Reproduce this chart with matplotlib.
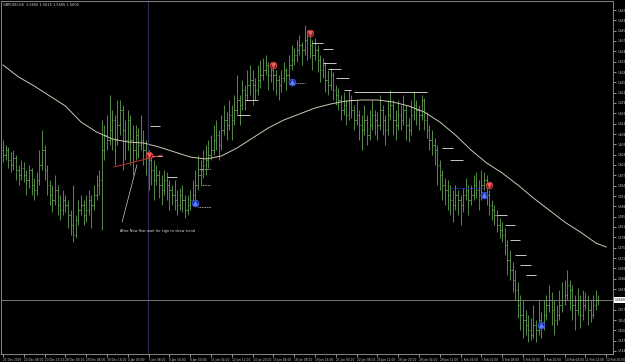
import matplotlib.pyplot as plt
import numpy as np

# GBPUSD H4 bars, 21 Dec 2009 .. 12 Feb 2010
opens = [
    1.6050, 1.6035, 1.6050, 1.6020, 1.6005, 1.6026, 1.5990, 1.5975,
    1.5996, 1.5975, 1.5960, 1.5990, 1.5945, 1.5930, 1.5960, 1.6005,
    1.6050, 1.5990, 1.5945, 1.5915, 1.5900, 1.5930, 1.5885, 1.5870,
    1.5900, 1.5885, 1.5855, 1.5825, 1.5795, 1.5840, 1.5870, 1.5885,
    1.5855, 1.5870, 1.5900, 1.5885, 1.5915, 1.5945, 1.5960, 1.6050,
    1.6095, 1.6080, 1.6110, 1.6140, 1.6080, 1.6125, 1.6170, 1.6110,
    1.6080, 1.6140, 1.6080, 1.6050, 1.6095, 1.6065, 1.6080, 1.6050,
    1.6035, 1.6020, 1.5990, 1.5960, 1.5975, 1.5945, 1.5930, 1.5960,
    1.5945, 1.5930, 1.5915, 1.5900, 1.5885, 1.5915, 1.5900, 1.5870,
    1.5885, 1.5900, 1.5915, 1.5945, 1.5975, 1.5990, 1.6005, 1.6020,
    1.6035, 1.6050, 1.6080, 1.6095, 1.6065, 1.6110, 1.6140, 1.6125,
    1.6155, 1.6140, 1.6170, 1.6200, 1.6185, 1.6230, 1.6215, 1.6245,
    1.6260, 1.6245, 1.6230, 1.6260, 1.6275, 1.6290, 1.6305, 1.6275,
    1.6290, 1.6275, 1.6260, 1.6245, 1.6266, 1.6290, 1.6275, 1.6305,
    1.6320, 1.6335, 1.6350, 1.6365, 1.6350, 1.6380, 1.6395, 1.6365,
    1.6335, 1.6350, 1.6320, 1.6290, 1.6305, 1.6260, 1.6245, 1.6275,
    1.6230, 1.6215, 1.6200, 1.6170, 1.6185, 1.6155, 1.6200, 1.6170,
    1.6140, 1.6155, 1.6125, 1.6110, 1.6140, 1.6095, 1.6125, 1.6155,
    1.6140, 1.6125, 1.6170, 1.6140, 1.6110, 1.6155, 1.6185, 1.6140,
    1.6125, 1.6155, 1.6140, 1.6170, 1.6125, 1.6110, 1.6155, 1.6185,
    1.6170, 1.6155, 1.6200, 1.6140, 1.6110, 1.6080, 1.6065, 1.6050,
    1.6005, 1.5975, 1.5945, 1.5930, 1.5915, 1.5900, 1.5885, 1.5915,
    1.5900, 1.5885, 1.5915, 1.5930, 1.5900, 1.5915, 1.5945, 1.5930,
    1.5915, 1.5945, 1.5960, 1.5915, 1.5885, 1.5870, 1.5855, 1.5825,
    1.5810, 1.5795, 1.5765, 1.5720, 1.5690, 1.5660, 1.5630, 1.5585,
    1.5555, 1.5540, 1.5525, 1.5510, 1.5495, 1.5525, 1.5510, 1.5540,
    1.5525, 1.5555, 1.5585, 1.5600, 1.5570, 1.5540, 1.5555, 1.5585,
    1.5600, 1.5615, 1.5645, 1.5630, 1.5585, 1.5570, 1.5600, 1.5555,
    1.5585, 1.5600, 1.5570, 1.5555, 1.5585, 1.5600,
]
highs = [
    1.6080, 1.6065, 1.6059, 1.6044, 1.6050, 1.6035, 1.6005, 1.6020,
    1.6014, 1.5990, 1.6005, 1.5996, 1.5966, 1.5984, 1.6050, 1.6110,
    1.6065, 1.6005, 1.5960, 1.5945, 1.5975, 1.5945, 1.5915, 1.5930,
    1.5915, 1.5900, 1.5870, 1.5945, 1.5855, 1.5900, 1.5915, 1.5900,
    1.5915, 1.5930, 1.5915, 1.5945, 1.5975, 1.5990, 1.6140, 1.6125,
    1.6155, 1.6215, 1.6170, 1.6155, 1.6200, 1.6200, 1.6185, 1.6140,
    1.6170, 1.6155, 1.6125, 1.6125, 1.6116, 1.6155, 1.6110, 1.6080,
    1.6050, 1.6035, 1.6020, 1.6005, 1.5990, 1.5975, 1.5990, 1.5984,
    1.5960, 1.5945, 1.5960, 1.5930, 1.5936, 1.5945, 1.5915, 1.5915,
    1.5930, 1.5960, 1.5990, 1.6035, 1.6020, 1.6050, 1.6065, 1.6080,
    1.6095, 1.6125, 1.6140, 1.6110, 1.6155, 1.6185, 1.6164, 1.6200,
    1.6185, 1.6215, 1.6275, 1.6215, 1.6260, 1.6245, 1.6290, 1.6305,
    1.6290, 1.6266, 1.6305, 1.6320, 1.6326, 1.6335, 1.6314, 1.6305,
    1.6305, 1.6290, 1.6275, 1.6290, 1.6314, 1.6296, 1.6335, 1.6365,
    1.6356, 1.6380, 1.6395, 1.6374, 1.6425, 1.6410, 1.6404, 1.6380,
    1.6386, 1.6365, 1.6335, 1.6326, 1.6314, 1.6290, 1.6296, 1.6284,
    1.6245, 1.6236, 1.6215, 1.6224, 1.6200, 1.6230, 1.6215, 1.6185,
    1.6200, 1.6170, 1.6155, 1.6185, 1.6155, 1.6170, 1.6200, 1.6170,
    1.6164, 1.6215, 1.6185, 1.6155, 1.6200, 1.6230, 1.6200, 1.6170,
    1.6200, 1.6185, 1.6215, 1.6185, 1.6146, 1.6200, 1.6224, 1.6200,
    1.6185, 1.6215, 1.6206, 1.6164, 1.6125, 1.6110, 1.6086, 1.6065,
    1.6020, 1.5990, 1.5966, 1.5960, 1.5945, 1.5930, 1.5945, 1.5930,
    1.5915, 1.5936, 1.5966, 1.5945, 1.5945, 1.5975, 1.5984, 1.5960,
    1.5990, 1.5984, 1.5975, 1.5930, 1.5900, 1.5885, 1.5870, 1.5846,
    1.5834, 1.5816, 1.5780, 1.5750, 1.5714, 1.5690, 1.5654, 1.5615,
    1.5600, 1.5570, 1.5555, 1.5546, 1.5585, 1.5540, 1.5600, 1.5564,
    1.5600, 1.5615, 1.5645, 1.5624, 1.5600, 1.5585, 1.5630, 1.5654,
    1.5660, 1.5690, 1.5660, 1.5645, 1.5615, 1.5636, 1.5615, 1.5630,
    1.5624, 1.5615, 1.5600, 1.5615, 1.5630, 1.5615,
]
lows = [
    1.6014, 1.6020, 1.5996, 1.5984, 1.5990, 1.5960, 1.5945, 1.5960,
    1.5954, 1.5915, 1.5936, 1.5915, 1.5900, 1.5915, 1.5945, 1.5990,
    1.5960, 1.5915, 1.5885, 1.5864, 1.5885, 1.5855, 1.5840, 1.5855,
    1.5864, 1.5816, 1.5795, 1.5774, 1.5786, 1.5825, 1.5855, 1.5825,
    1.5834, 1.5855, 1.5816, 1.5870, 1.5900, 1.5915, 1.5810, 1.6020,
    1.6050, 1.6065, 1.6050, 1.6005, 1.6065, 1.6095, 1.5990, 1.6020,
    1.6050, 1.6005, 1.5975, 1.6020, 1.6026, 1.6050, 1.6005, 1.5975,
    1.5930, 1.5945, 1.5900, 1.5945, 1.5906, 1.5885, 1.5915, 1.5900,
    1.5870, 1.5885, 1.5870, 1.5855, 1.5870, 1.5864, 1.5846, 1.5855,
    1.5870, 1.5885, 1.5900, 1.5930, 1.5945, 1.5966, 1.5975, 1.5996,
    1.6020, 1.6035, 1.6050, 1.6020, 1.6050, 1.6095, 1.6080, 1.6110,
    1.6080, 1.6125, 1.6155, 1.6125, 1.6170, 1.6170, 1.6200, 1.6215,
    1.6185, 1.6200, 1.6215, 1.6236, 1.6260, 1.6275, 1.6230, 1.6254,
    1.6230, 1.6215, 1.6200, 1.6224, 1.6254, 1.6230, 1.6260, 1.6290,
    1.6305, 1.6314, 1.6335, 1.6305, 1.6335, 1.6320, 1.6326, 1.6290,
    1.6320, 1.6284, 1.6254, 1.6266, 1.6224, 1.6215, 1.6230, 1.6200,
    1.6185, 1.6170, 1.6140, 1.6155, 1.6125, 1.6140, 1.6146, 1.6110,
    1.6125, 1.6080, 1.6050, 1.6095, 1.6065, 1.6080, 1.6110, 1.6095,
    1.6080, 1.6110, 1.6095, 1.6065, 1.6095, 1.6140, 1.6095, 1.6080,
    1.6110, 1.6110, 1.6125, 1.6080, 1.6074, 1.6095, 1.6140, 1.6125,
    1.6110, 1.6140, 1.6110, 1.6086, 1.6050, 1.6035, 1.6005, 1.5945,
    1.5930, 1.5900, 1.5885, 1.5870, 1.5855, 1.5834, 1.5870, 1.5855,
    1.5825, 1.5864, 1.5900, 1.5855, 1.5885, 1.5900, 1.5906, 1.5870,
    1.5900, 1.5930, 1.5885, 1.5855, 1.5840, 1.5825, 1.5804, 1.5786,
    1.5774, 1.5735, 1.5675, 1.5660, 1.5624, 1.5600, 1.5546, 1.5510,
    1.5486, 1.5495, 1.5474, 1.5480, 1.5486, 1.5474, 1.5495, 1.5486,
    1.5510, 1.5540, 1.5564, 1.5525, 1.5495, 1.5525, 1.5540, 1.5564,
    1.5585, 1.5600, 1.5570, 1.5540, 1.5510, 1.5555, 1.5516, 1.5540,
    1.5570, 1.5525, 1.5534, 1.5546, 1.5570, 1.5585,
]
closes = [
    1.6035, 1.6050, 1.6020, 1.6005, 1.6026, 1.5990, 1.5975, 1.5996,
    1.5975, 1.5960, 1.5990, 1.5945, 1.5930, 1.5960, 1.6005, 1.6050,
    1.5990, 1.5945, 1.5915, 1.5900, 1.5930, 1.5885, 1.5870, 1.5900,
    1.5885, 1.5855, 1.5825, 1.5795, 1.5840, 1.5870, 1.5885, 1.5855,
    1.5870, 1.5900, 1.5885, 1.5915, 1.5945, 1.5960, 1.6050, 1.6095,
    1.6080, 1.6110, 1.6140, 1.6080, 1.6125, 1.6170, 1.6110, 1.6080,
    1.6140, 1.6080, 1.6050, 1.6095, 1.6065, 1.6080, 1.6050, 1.6035,
    1.6020, 1.5990, 1.5960, 1.5975, 1.5945, 1.5930, 1.5960, 1.5945,
    1.5930, 1.5915, 1.5900, 1.5885, 1.5915, 1.5900, 1.5870, 1.5885,
    1.5900, 1.5915, 1.5945, 1.5975, 1.5990, 1.6005, 1.6020, 1.6035,
    1.6050, 1.6080, 1.6095, 1.6065, 1.6110, 1.6140, 1.6125, 1.6155,
    1.6140, 1.6170, 1.6200, 1.6185, 1.6230, 1.6215, 1.6245, 1.6260,
    1.6245, 1.6230, 1.6260, 1.6275, 1.6290, 1.6305, 1.6275, 1.6290,
    1.6275, 1.6260, 1.6245, 1.6266, 1.6290, 1.6275, 1.6305, 1.6320,
    1.6335, 1.6350, 1.6365, 1.6350, 1.6380, 1.6395, 1.6365, 1.6335,
    1.6350, 1.6320, 1.6290, 1.6305, 1.6260, 1.6245, 1.6275, 1.6230,
    1.6215, 1.6200, 1.6170, 1.6185, 1.6155, 1.6200, 1.6170, 1.6140,
    1.6155, 1.6125, 1.6110, 1.6140, 1.6095, 1.6125, 1.6155, 1.6140,
    1.6125, 1.6170, 1.6140, 1.6110, 1.6155, 1.6185, 1.6140, 1.6125,
    1.6155, 1.6140, 1.6170, 1.6125, 1.6110, 1.6155, 1.6185, 1.6170,
    1.6155, 1.6200, 1.6140, 1.6110, 1.6080, 1.6065, 1.6050, 1.6005,
    1.5975, 1.5945, 1.5930, 1.5915, 1.5900, 1.5885, 1.5915, 1.5900,
    1.5885, 1.5915, 1.5930, 1.5900, 1.5915, 1.5945, 1.5930, 1.5915,
    1.5945, 1.5960, 1.5915, 1.5885, 1.5870, 1.5855, 1.5825, 1.5810,
    1.5795, 1.5765, 1.5720, 1.5690, 1.5660, 1.5630, 1.5585, 1.5555,
    1.5540, 1.5525, 1.5510, 1.5495, 1.5525, 1.5510, 1.5540, 1.5525,
    1.5555, 1.5585, 1.5600, 1.5570, 1.5540, 1.5555, 1.5585, 1.5600,
    1.5615, 1.5645, 1.5630, 1.5585, 1.5570, 1.5600, 1.5555, 1.5585,
    1.5600, 1.5570, 1.5555, 1.5585, 1.5600, 1.5600,
]

# moving average, read every 6th bar (last point sits a little past the last bar)
ma_bars = list(range(0, 229, 6)) + [232]
ma_values = [
    1.6305, 1.6269, 1.6242, 1.6212, 1.6182, 1.6134, 1.6104, 1.6083,
    1.6074, 1.6071, 1.6059, 1.6044, 1.6029, 1.6023, 1.6032, 1.6056,
    1.6086, 1.6116, 1.6140, 1.6158, 1.6176, 1.6188, 1.6197, 1.6200,
    1.6200, 1.6194, 1.6182, 1.6164, 1.6134, 1.6095, 1.6050,
    1.6011, 1.5981, 1.5945, 1.5906, 1.5870, 1.5834, 1.5804, 1.5771,
    1.5759,
]

# signal arrows
sell_bars = [56, 104, 118, 187]
sell_prices = [1.6035, 1.6305, 1.6400, 1.5945]
buy_bars = [74, 111, 185, 207]
buy_prices = [1.5891, 1.6254, 1.5915, 1.5525]

# indicator level lines: start bar, end bar, price, style
level_start = [56.5, 57.3, 63, 90, 93, 119, 123, 123, 125, 128, 131, 135,
               169, 172, 190, 193, 195, 197, 199, 201,
               75, 76, 75, 111.5, 172]
level_end = [60.4, 61.2, 67, 95, 98, 123, 127, 128, 130, 133, 134, 163,
             173, 177, 194, 197, 199, 201, 203, 205,
             80, 80, 80, 116, 185]
level_price = [1.6122, 1.6032, 1.5969, 1.6155, 1.6200, 1.6371, 1.6353, 1.6311,
               1.6293, 1.6266, 1.6230, 1.6224, 1.6056, 1.6020, 1.5855, 1.5825,
               1.5780, 1.5735, 1.5705, 1.5675,
               1.5993, 1.5945, 1.5879, 1.6251, 1.5936]
level_style = ['solid'] * 20 + ['dot_white'] * 4 + ['dot_blue']

time_labels = [
    "21 Dec 2009", "22 Dec 08:00", "23 Dec 16:00", "28 Dec 00:00", "29 Dec 08:00",
    "30 Dec 16:00", "4 Jan 00:00", "5 Jan 08:00", "6 Jan 16:00", "8 Jan 00:00",
    "11 Jan 04:00", "12 Jan 12:00", "13 Jan 20:00", "15 Jan 04:00", "18 Jan 08:00",
    "19 Jan 16:00", "21 Jan 00:00", "22 Jan 08:00", "25 Jan 12:00", "26 Jan 20:00",
    "28 Jan 04:00", "29 Jan 12:00", "1 Feb 16:00", "3 Feb 00:00", "4 Feb 08:00",
    "5 Feb 16:00", "8 Feb 20:00", "10 Feb 04:00", "11 Feb 12:00", "12 Feb 20:00",
]

separator_bar = 55.8
note = "After New Year wait for sign to show trend"

fig = plt.figure(figsize=(6.25, 3.62), dpi=100, facecolor='black')
ax = fig.add_axes([1 / 625, 8 / 362, 612 / 625, 353 / 362])
ax.set_facecolor('black')

idx = np.arange(len(closes))
bar_color = '#62a052'
ax.vlines(idx, lows, highs, color=bar_color, lw=0.6)
ax.hlines(opens, idx - 0.45, idx, color=bar_color, lw=0.6)
ax.hlines(closes, idx, idx + 0.45, color=bar_color, lw=0.6)

# moving average
ax.plot(ma_bars, ma_values, color='#cfc7b4', lw=0.7)

# period separator
ax.axvline(separator_bar, color='#2c2c55', lw=0.8)

# level lines
for x0, x1, p, st in zip(level_start, level_end, level_price, level_style):
    if st == 'solid':
        ax.hlines(p, x0, x1, color='#e8e8e8', lw=0.6)
    elif st == 'dot_white':
        ax.hlines(p, x0, x1, color='#d8d8d8', lw=0.6, linestyles=(0, (1, 1)))
    else:
        ax.hlines(p, x0, x1, color='#3040c0', lw=0.7, linestyles=(0, (1, 1)))

# signals
ax.scatter(sell_bars, sell_prices, s=22, marker='o', facecolor='#5a1414',
           edgecolor='#d84040', lw=0.7, zorder=5)
ax.scatter(sell_bars, sell_prices, s=6, marker='v', color='#e86060', zorder=6)
ax.scatter(buy_bars, buy_prices, s=22, marker='o', facecolor='#121c78',
           edgecolor='#3a58e8', lw=0.7, zorder=5)
ax.scatter(buy_bars, buy_prices, s=6, marker='^', color='#6080ff', zorder=6)

# hand drawn trend line and note
ax.plot([42.7, 61.2], [1.5999, 1.6035], color='#c03030', lw=0.7)
ax.plot([45.8, 51.5], [1.5834, 1.6005], color='#d0d0d0', lw=0.5)
ax.text(45.0, 1.5806, note, color='#e0e0e0', fontsize=2.5, va='center', ha='left')

# current price line
last = closes[-1]
ax.axhline(last, color='#8a8a8a', lw=0.6)
ax.text(1.003, last, f"{last:.4f}", transform=ax.get_yaxis_transform(),
        fontsize=2.2, color='black', va='center', ha='left', clip_on=False,
        bbox=dict(facecolor='white', edgecolor='none', pad=0.4), zorder=10)

ax.text(0.004, 0.994,
        f"GBPUSD,H4  {opens[-1]:.4f} {highs[-1]:.4f} {lows[-1]:.4f} {closes[-1]:.4f}",
        transform=ax.transAxes, fontsize=2.5, color='#d8d8d8', va='top', ha='left')

ax.set_xlim(-0.77, 234.6)
ax.set_ylim(1.5438, 1.6497)

ax.yaxis.tick_right()
yt = 1.6470 - 0.0031 * np.arange(34)
ax.set_yticks(yt)
ax.set_yticklabels([f"{v:.4f}" for v in yt])
ax.set_xticks(np.arange(0, 8 * len(time_labels), 8))
ax.set_xticklabels(time_labels)
for lbl in ax.get_xticklabels():
    lbl.set_ha('left')
ax.tick_params(colors='#d0d0d0', labelsize=2.1, length=2, width=0.5, pad=1)

for side in ['left', 'top', 'right', 'bottom']:
    ax.spines[side].set_color('#9a9a9a')
    ax.spines[side].set_linewidth(0.6)

fig.savefig('out.png', dpi=100, facecolor='black')
